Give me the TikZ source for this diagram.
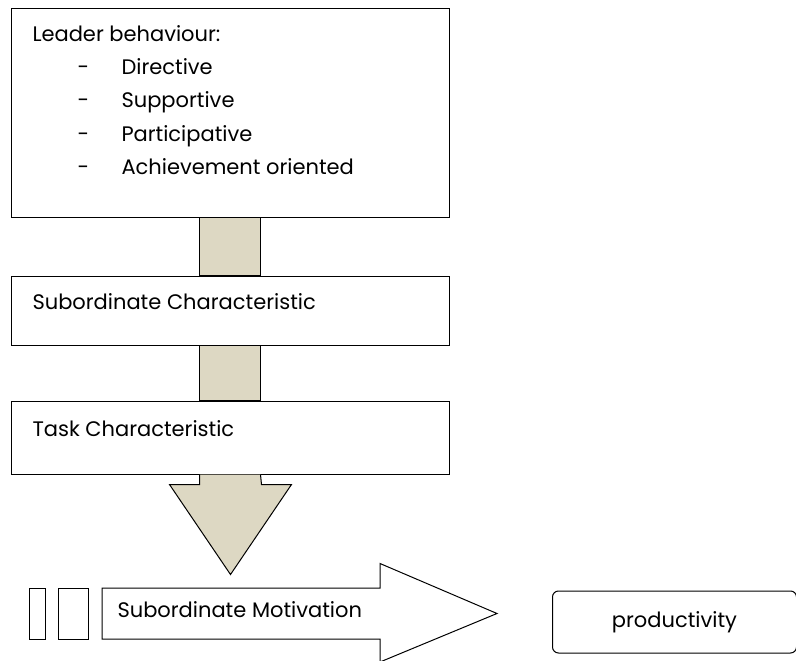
\documentclass[tikz,border=0pt]{standalone}
\usepackage{fontspec}
\setmainfont{Poppins}
\usetikzlibrary{positioning}
\definecolor{shafttan}{HTML}{DDD8C3}

\begin{document}
\begin{tikzpicture}[x=1pt,y=-1pt,line width=1pt,
  font=\fontsize{21}{25}\selectfont,
  box/.style={draw,rectangle,inner sep=0pt},
  lbl/.style={anchor=base west,inner sep=0pt},
  shaft/.style={draw,fill=shafttan}]

  \useasboundingbox (0,0) rectangle (796,661);

  % the three stacked boxes
  \node[box,minimum width=438,minimum height=208] (lead) at (230,113) {};
  \node[box,minimum width=438,minimum height=69] (subch) at (230,310.5) {};
  \node[box,minimum width=438,minimum height=73] (task) at (230,437.5) {};

  \node[lbl] (leadtxt) at (32,42) {Leader behaviour:};
  \foreach \item [count=\i] in {Directive,Supportive,Participative,Achievement oriented}
    {\node[lbl] (dash\i) at (77,42+\i*33) {-};
     \node[lbl] (item\i) at (121,42+\i*33) {\item};}
  \node[lbl] (subchtxt) at (32,309) {Subordinate Characteristic};
  \node[lbl] (tasktxt) at (32,436) {Task Characteristic};

  % shafts between boxes
  \draw[shaft] ([xshift=-30.5pt]lead.south) rectangle ([xshift=30.5pt]subch.north);
  \draw[shaft] ([xshift=-30.5pt]subch.south) rectangle ([xshift=30.5pt]task.north);
  \draw[shaft] ([xshift=-30.5pt]task.south) -- ++(0,10) -- ++(-30,0)
    -- ++(61,90) -- ++(61,-90) -- ++(-30,0) -- ([xshift=30.5pt]task.south);

  % motivation arrow
  \node[box,minimum width=16,minimum height=51] (barA) at (37,613.5) {};
  \node[box,minimum width=30,minimum height=51] (barB) at (73,613.5) {};
  \coordinate (mot) at (102,613.5);
  \draw (mot) ++(0,-25.5) -- ++(278,0) -- ++(0,-24.5) -- (497,613.5)
    -- (380,662) -- (380,639) -- (102,639) -- cycle;
  \node[lbl] (mottxt) at (117,617) {Subordinate Motivation};

  \node[box,rounded corners=6pt,minimum width=244,minimum height=62] (prod) at (674.5,622) {productivity};
\end{tikzpicture}
\end{document}
